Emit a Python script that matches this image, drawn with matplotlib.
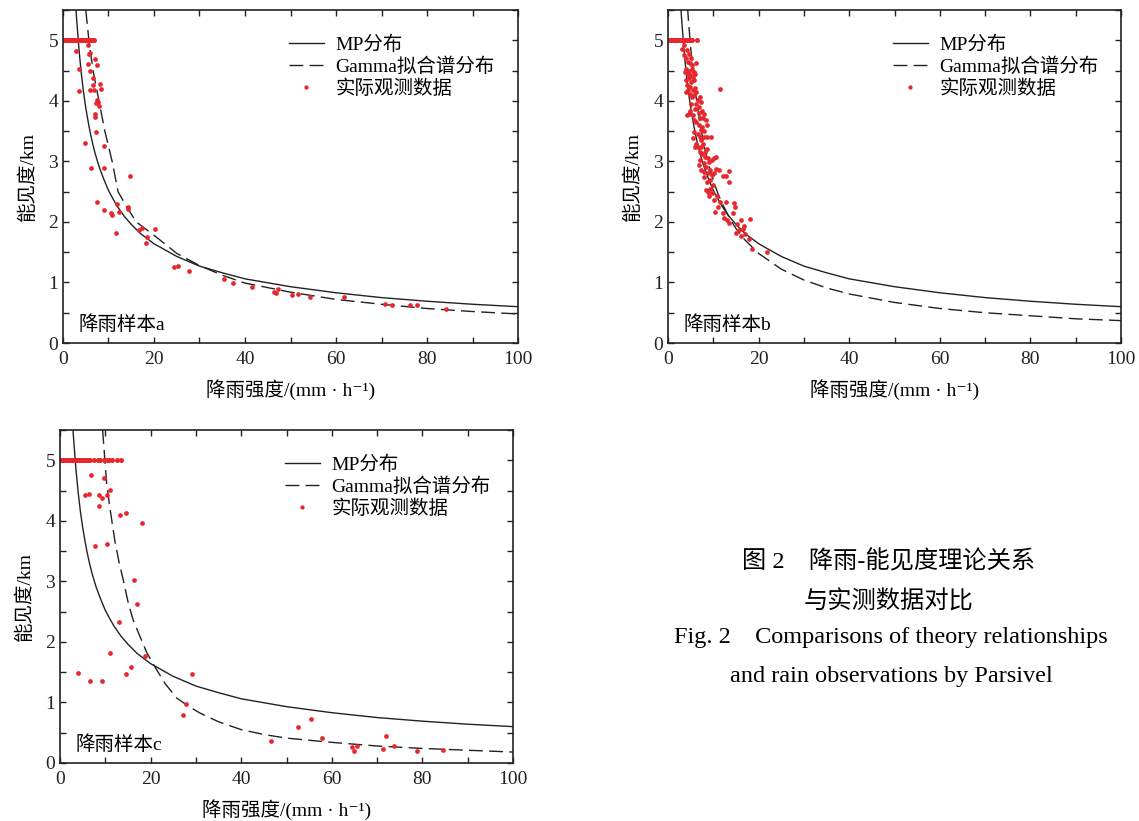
import matplotlib
matplotlib.use("Agg")
import matplotlib.pyplot as plt
from matplotlib.ticker import MultipleLocator

plt.rcParams['font.family'] = ['Liberation Serif', 'Noto Sans CJK SC', 'DejaVu Serif']
plt.rcParams['axes.unicode_minus'] = False

RED = '#e8262e'

# MP relation (same in all three samples), visibility km vs rain rate mm/h
mp_x = [2.85, 3.0, 3.25, 3.5, 4.0, 4.5, 5.0, 5.5, 6.0, 6.5, 7.0, 7.5, 8.0, 9.0, 10.0, 11.0,
        12.0, 13.5, 15.0, 17.0, 20.0, 25.0, 30.0, 35.0, 40.0, 50.0, 60.0, 70.0, 80.0, 90.0, 100.0]
mp_y = [5.52, 5.35, 5.11, 4.86, 4.47, 4.15, 3.89, 3.67, 3.47, 3.30, 3.15, 3.02, 2.90, 2.70, 2.52, 2.38,
        2.25, 2.09, 1.96, 1.81, 1.64, 1.43, 1.27, 1.16, 1.06, 0.93, 0.83, 0.75, 0.69, 0.64, 0.60]

# Gamma fitted spectra
gamma_a_x = [5.0, 5.7, 6.6, 7.9, 9.2, 10.8, 12.1, 14.0, 16.1, 20.0, 25.0, 30.0, 35.0, 40.0,
             50.0, 60.0, 70.0, 80.0, 90.0, 100.0]
gamma_a_y = [5.50, 5.00, 4.50, 4.00, 3.50, 3.00, 2.50, 2.25, 2.00, 1.78, 1.48, 1.28, 1.12, 0.99,
             0.84, 0.72, 0.64, 0.57, 0.52, 0.48]
gamma_b_x = [4.3, 4.5, 5.0, 5.5, 6.0, 7.0, 8.0, 9.0, 10.0, 11.0, 12.0, 13.5, 15.0, 17.0, 20.0,
             25.0, 30.0, 35.0, 40.0, 50.0, 60.0, 70.0, 80.0, 90.0, 100.0]
gamma_b_y = [5.55, 5.34, 4.88, 4.49, 4.17, 3.65, 3.25, 2.94, 2.69, 2.47, 2.30, 2.07, 1.89, 1.70, 1.48,
             1.22, 1.04, 0.91, 0.81, 0.67, 0.57, 0.50, 0.45, 0.40, 0.37]
gamma_c_x = [9.4, 10.3, 11.0, 12.1, 13.1, 14.0, 15.1, 16.2, 17.7, 19.1, 21.0, 23.2, 25.8,
             28.5, 31.0, 35.0, 40.0, 45.0, 50.0, 60.0, 70.0, 80.0, 90.0, 100.0]
gamma_c_y = [5.5, 4.61, 4.22, 3.67, 3.29, 3.01, 2.63, 2.35, 2.08, 1.83, 1.58, 1.31, 1.07,
             0.93, 0.82, 0.68, 0.55, 0.47, 0.41, 0.34, 0.28, 0.24, 0.21, 0.18]

# observations capped at 5 km
cap_a_x = [0.0, 0.3, 0.6, 0.9, 1.2, 1.5, 1.8, 2.1, 2.4, 2.7, 3.0, 3.3, 3.6, 3.9, 4.2, 4.5,
           4.8, 5.1, 5.4, 5.7, 6.0, 6.3, 6.6, 6.9]
cap_b_x = [0.0, 0.3, 0.6, 0.9, 1.2, 1.5, 1.8, 2.1, 2.4, 2.7, 3.0, 3.3, 3.6, 3.9, 4.2, 4.5,
           4.8, 5.1, 5.3, 6.5]
cap_c_x = [0.0, 0.3, 0.6, 0.9, 1.2, 1.5, 1.8, 2.1, 2.4, 2.7, 3.0, 3.3, 3.6, 3.9, 4.2, 4.5,
           4.8, 5.1, 5.4, 5.7, 6.0, 6.25, 6.6, 7.6, 8.3, 8.85, 9.8, 10.3, 10.8, 11.55, 12.5, 13.4]

# remaining observations
obs_a_x = [2.8, 3.45, 3.45, 4.77, 6.16, 5.5, 5.7, 5.85, 5.6, 6.0, 7.0, 7.45, 6.5, 6.7, 5.85,
           6.9, 8.2, 8.3, 7.4, 7.6, 7.2, 7.9, 7.0, 7.0, 7.2, 9.0, 9.0, 7.45, 9.0, 10.6, 10.85,
           11.95, 12.2, 11.6, 14.2, 14.2, 14.7, 16.6, 17.3, 18.5, 18.2, 20.3, 24.5, 25.3, 27.8,
           35.4, 37.4, 41.5, 46.3, 46.9, 47.3, 50.3, 51.6, 54.2, 61.7, 70.7, 72.4, 76.2, 77.9, 84.1]
obs_a_y = [4.82, 4.53, 4.16, 3.30, 2.89, 4.92, 4.77, 4.79, 4.61, 4.49, 4.69, 4.59, 4.38, 4.26, 4.18,
           4.18, 4.27, 4.20, 4.01, 3.98, 3.96, 3.91, 3.78, 3.74, 3.48, 3.26, 2.89, 2.33, 2.20, 2.14, 2.11,
           2.30, 2.16, 1.81, 2.25, 2.21, 2.76, 1.87, 1.90, 1.75, 1.66, 1.89, 1.25, 1.27, 1.19,
           1.05, 0.99, 0.93, 0.85, 0.83, 0.90, 0.80, 0.81, 0.76, 0.76, 0.64, 0.63, 0.62, 0.63, 0.56]

obs_b_x = [3.08, 3.59, 4.18, 3.59, 4.04, 4.62, 5.14, 4.33, 4.92, 5.36, 4.04, 4.62, 5.29, 5.80,
           6.24, 3.82, 4.33, 4.92, 5.51, 6.02, 3.89, 4.55, 5.14, 5.66, 4.18, 4.77, 4.33, 3.89,
           4.92, 5.51, 6.02, 5.29, 5.80, 6.24, 6.54, 6.98, 7.27, 6.24, 6.76, 4.92, 5.51, 4.62,
           4.18, 6.02, 6.76, 7.42, 7.86, 5.07, 5.66, 6.24, 6.98, 7.72, 8.30, 7.57, 6.76, 7.27,
           5.66, 6.54, 6.98, 5.51, 7.27, 7.86, 8.60, 9.48, 8.01, 8.60, 6.24, 6.54, 7.27, 7.72,
           5.95, 6.98, 7.49, 8.23, 8.60, 8.16, 8.75, 6.98, 7.86, 8.45, 9.04, 6.83, 7.27, 7.86,
           8.75, 9.33, 9.78, 10.07, 8.01, 8.60, 9.19, 9.70, 10.22, 10.66, 8.30, 8.75, 9.33, 9.92,
           9.04, 9.70, 10.22, 10.81, 11.25, 12.13, 12.72, 13.38, 10.95, 11.54, 10.44, 12.13,
           12.87, 14.63, 14.85, 14.34, 12.28, 13.01, 13.38, 15.22, 16.10, 16.54, 16.84, 15.59,
           15.07, 17.06, 16.10, 18.02, 17.80, 18.53, 21.84, 10.66, 13.45, 11.54]
obs_b_y = [4.86, 4.92, 4.84, 4.75, 4.70, 4.78, 4.71, 4.64, 4.62, 4.59, 4.53, 4.50, 4.53, 4.48,
           4.62, 4.48, 4.45, 4.42, 4.39, 4.45, 4.34, 4.37, 4.31, 4.34, 4.26, 4.23, 4.18, 4.15,
           4.12, 4.18, 4.22, 4.07, 4.09, 4.15, 4.01, 4.07, 3.98, 3.95, 3.90, 3.84, 3.76, 3.79,
           3.76, 3.87, 3.80, 3.84, 3.79, 3.95, 3.68, 3.65, 3.71, 3.71, 3.68, 3.57, 3.60, 3.52,
           3.49, 3.46, 3.40, 3.38, 3.35, 3.40, 3.40, 3.40, 3.50, 3.60, 3.29, 3.24, 3.24, 3.29,
           3.24, 3.16, 3.13, 3.16, 3.21, 3.07, 3.05, 3.03, 2.97, 2.91, 2.99, 2.94, 2.85, 2.83,
           2.80, 2.85, 3.02, 3.05, 2.75, 2.66, 2.69, 2.77, 2.80, 2.88, 2.53, 2.50, 2.55, 2.61,
           2.42, 2.47, 2.36, 2.42, 2.85, 2.76, 2.76, 2.66, 2.25, 2.33, 2.17, 2.14,
           2.33, 2.32, 2.25, 2.14, 2.07, 2.03, 1.99, 1.96, 2.03, 1.89, 1.94, 1.87,
           1.82, 1.80, 1.76, 2.05, 1.71, 1.56, 1.51, 3.07, 2.84, 4.19]

obs_c_x = [6.77, 5.52, 6.5, 9.7, 8.7, 9.2, 10.3, 11.0, 8.55, 13.2, 14.5, 18.1, 7.65, 10.4,
           16.4, 16.9, 12.95, 11.05, 18.8, 3.9, 6.55, 9.2, 14.5, 15.75, 29.1, 27.7, 27.2,
           46.6, 52.6, 55.3, 57.8, 64.4, 64.9, 65.6, 71.4, 71.9, 73.7, 78.7, 84.6]
obs_c_y = [4.76, 4.43, 4.44, 4.71, 4.43, 4.37, 4.43, 4.51, 4.25, 4.09, 4.13, 3.96, 3.59, 3.61,
           3.02, 2.63, 2.33, 1.81, 1.77, 1.49, 1.35, 1.35, 1.47, 1.58, 1.47, 0.97, 0.79,
           0.36, 0.59, 0.73, 0.41, 0.26, 0.20, 0.28, 0.23, 0.45, 0.28, 0.20, 0.22]

FS = 14


def draw_panel(ax, gx, gy, cap_x, ox, oy, tag):
    ax.plot(mp_x, mp_y, color='#222222', lw=1.0, label='MP分布')
    ax.plot(gx, gy, color='#222222', lw=1.0, dashes=(10, 4.5), label='Gamma拟合谱分布')
    ax.plot(cap_x, [5.0] * len(cap_x), 'o', color=RED, ms=3.6, mec='none')
    ax.plot(ox, oy, 'o', color=RED, ms=3.4, mec='none', label='实际观测数据')
    ax.set_xlim(0, 100)
    ax.set_ylim(0, 5.5)
    ax.xaxis.set_major_locator(MultipleLocator(20))
    ax.xaxis.set_minor_locator(MultipleLocator(10))
    ax.yaxis.set_major_locator(MultipleLocator(1))
    ax.yaxis.set_minor_locator(MultipleLocator(0.5))
    ax.tick_params(which='both', direction='in', top=True, right=True,
                   length=4, width=1.0, labelsize=FS, colors='#222222')
    ax.tick_params(axis='x', pad=6)
    for s in ax.spines.values():
        s.set_linewidth(1.2)
        s.set_color('#222222')
    ax.set_xlabel('降雨强度/(mm · h⁻¹)', fontsize=FS, labelpad=8)
    ax.set_ylabel('能见度/km', fontsize=FS, labelpad=8)
    ax.text(0.035, 0.055, tag, transform=ax.transAxes, fontsize=FS, va='center', ha='left')
    ax.legend(loc='upper left', bbox_to_anchor=(0.458, 0.975), frameon=False,
              fontsize=FS, handlelength=1.8, handletextpad=0.6, labelspacing=0.18,
              numpoints=1, markerscale=0.9)


fig = plt.figure(figsize=(11.39, 8.21), dpi=100)
ax_a = fig.add_axes([0.0553, 0.5822, 0.3995, 0.4056])
ax_b = fig.add_axes([0.5865, 0.5822, 0.3977, 0.4056])
ax_c = fig.add_axes([0.0527, 0.0707, 0.3977, 0.4056])

draw_panel(ax_a, gamma_a_x, gamma_a_y, cap_a_x, obs_a_x, obs_a_y, '降雨样本a')
draw_panel(ax_b, gamma_b_x, gamma_b_y, cap_b_x, obs_b_x, obs_b_y, '降雨样本b')
draw_panel(ax_c, gamma_c_x, gamma_c_y, cap_c_x, obs_c_x, obs_c_y, '降雨样本c')

# figure caption
CAP = 17.5
fig.text(0.7805, 0.3155, '图 2　降雨-能见度理论关系', fontsize=CAP, ha='center', va='center')
fig.text(0.7805, 0.2667, '与实测数据对比', fontsize=CAP, ha='center', va='center')
fig.text(0.7823, 0.2229, 'Fig. 2　Comparisons of theory relationships', fontsize=CAP,
         ha='center', va='center')
fig.text(0.7823, 0.1754, 'and rain observations by Parsivel', fontsize=CAP,
         ha='center', va='center')

fig.savefig('out.png', dpi=100)
